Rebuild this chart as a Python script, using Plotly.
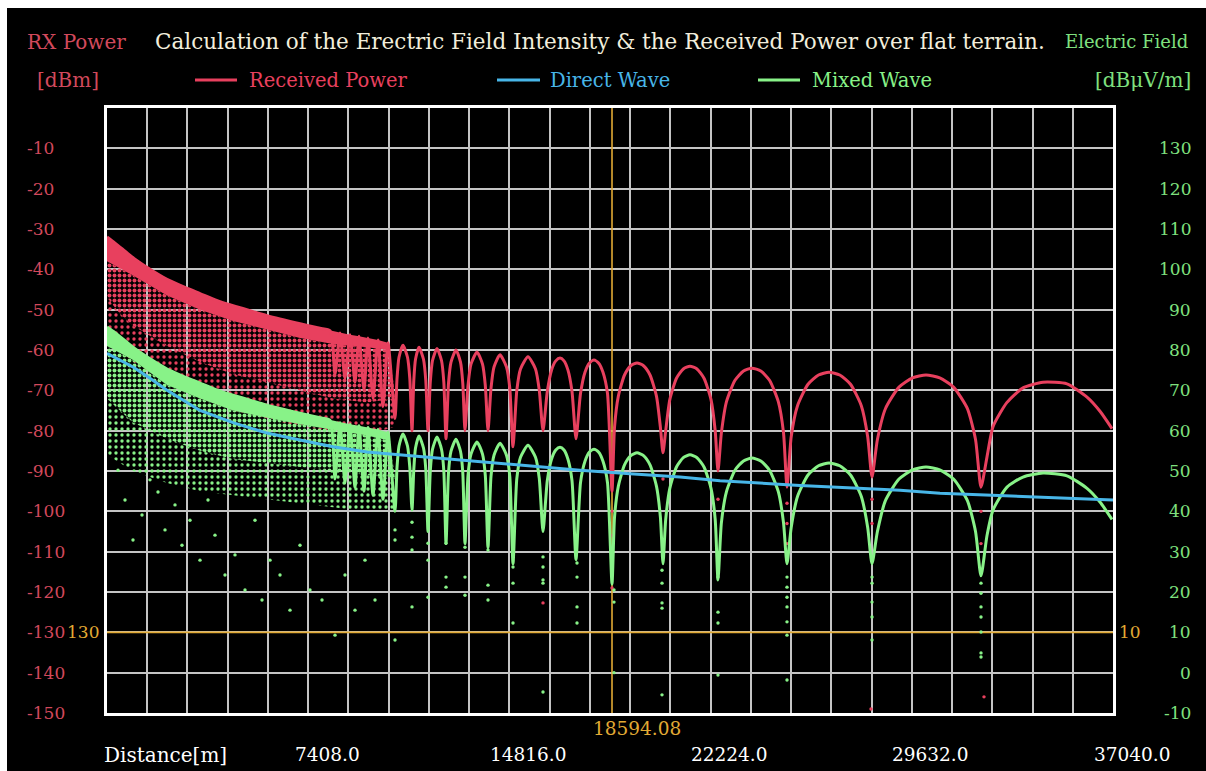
import plotly.graph_objects as go

# ------------------------------------------------------------------ data
X_MAX = 37040.0
x_tick_vals = [7408.0, 14816.0, 22224.0, 29632.0, 37040.0]
x_tick_text = ["7408.0", "14816.0", "22224.0", "29632.0", "37040.0"]
left_tick_vals = [-10, -20, -30, -40, -50, -60, -70, -80, -90, -100, -110, -120, -130, -140, -150]
right_tick_vals = [130, 120, 110, 100, 90, 80, 70, 60, 50, 40, 30, 20, 10, 0, -10]
cursor_x = 18594.08
cursor_left = -130
cursor_right = 10

# distances [m] of the traced points of the received power / mixed wave curves
lobe_d = [0, 295, 663, 1031, 1583, 2209, 2872, 3424, 4161, 4897, 5891, 7106, 7842, 8211,
          8395, 8579, 8763, 8947, 9131, 9278, 9462, 9610, 9794, 9978, 10162, 10346, 10604,
          10678, 10751, 10898, 11064, 11149, 11230,
          11296, 11359, 11488, 11653, 11738, 11819,
          11904, 11985, 12150, 12316, 12401, 12482,
          12574, 12666, 12850, 13016, 13100, 13181,
          13292, 13402, 13623, 13826, 13929, 14028,
          14138, 14249, 14470, 14709, 14831, 14949,
          15089, 15225, 15501, 15777, 15917, 16053,
          16211, 16366, 16524, 16679, 16826, 16973, 17121, 17268,
          17434, 17599, 17765, 17931, 18097, 18262, 18428, 18594,
          18686, 18826, 19054, 19286, 19514, 19754, 19993, 20232, 20376, 20471,
          20571, 20722, 20968, 21219, 21465, 21723, 21981, 22239, 22393, 22496,
          22622, 22809, 23122, 23435, 23748, 24072, 24393, 24717, 24908, 25037,
          25192, 25424, 25811, 26197, 26583, 26981, 27375, 27773, 28008, 28167,
          28366, 28664, 29161, 29658, 30155, 30663, 31168, 31676, 31978, 32180,
          32401, 32622, 33137, 33726, 34463, 35346, 36083, 36561, 37003]

# Received Power [dBm]
rx_power = [-32.0, -33.5, -35.5, -37.5, -40.0, -42.5, -44.5, -46.0, -48.0, -49.5, -51.5, -53.5, -54.6, -55.2,
            -66, -55.8, -67, -56.2, -68, -56.6, -70, -57.0, -72, -57.5, -74, -58.2, -77,
            -67.1, -61.8, -58.8, -61.8, -67.1, -80,
            -67.6, -62.3, -59.3, -62.3, -67.6, -80,
            -67.9, -62.6, -59.6, -62.6, -67.9, -82,
            -68.3, -63.0, -60.0, -63.0, -68.3, -80,
            -68.8, -63.5, -60.5, -63.5, -68.8, -80,
            -69.5, -64.2, -61.2, -64.2, -69.5, -84,
            -70.0, -64.7, -61.7, -64.7, -70.0, -80,
            -70.3, -65.0, -62.7, -62.0, -62.7, -65.0, -70.3, -82,
            -70.8, -65.5, -63.2, -62.5, -63.2, -65.5, -70.8, -95,
            -79.2, -71.5, -66.2, -63.9, -63.2, -63.9, -66.2, -71.5, -79.2, -85.5,
            -80.0, -72.3, -67.0, -64.7, -64.0, -64.7, -67.0, -72.3, -80.0, -90,
            -80.5, -72.8, -67.5, -65.2, -64.5, -65.2, -67.5, -72.8, -80.5, -94,
            -81.5, -73.8, -68.5, -66.2, -65.5, -66.2, -68.5, -73.8, -81.5, -91.5,
            -82.2, -74.5, -69.2, -66.9, -66.2, -66.9, -69.2, -74.5, -82.2, -94,
            -86.5, -79.0, -73.0, -69.4, -68.0, -68.4, -71.7, -75.2, -79.5]

# Mixed Wave [dBuV/m]
mixed_wave = [85.7, 84.3, 82.3, 80.3, 77.8, 75.3, 73.3, 71.8, 69.8, 68.3, 66.3, 64.3, 63.2, 62.6,
              48, 62.0, 47, 61.6, 46, 61.2, 45, 60.8, 44, 60.3, 43, 59.6, 40,
              50.9, 56.2, 59.2, 56.2, 50.9, 40.3,
              50.4, 55.7, 58.7, 55.7, 50.4, 35,
              50.1, 55.4, 58.4, 55.4, 50.1, 32,
              49.6, 54.9, 57.9, 54.9, 49.6, 32,
              48.9, 54.2, 57.2, 54.2, 48.9, 31,
              48.6, 53.9, 56.9, 53.9, 48.6, 27,
              48.1, 53.4, 56.4, 53.4, 48.1, 35,
              47.6, 52.9, 55.2, 55.9, 55.2, 52.9, 47.6, 28,
              47.1, 52.4, 54.7, 55.4, 54.7, 52.4, 47.1, 22,
              38.5, 46.2, 51.5, 53.8, 54.5, 53.8, 51.5, 46.2, 38.5, 27,
              38.0, 45.7, 51.0, 53.3, 54.0, 53.3, 51.0, 45.7, 38.0, 23,
              37.2, 44.9, 50.2, 52.5, 53.2, 52.5, 50.2, 44.9, 37.2, 27,
              36.0, 43.7, 49.0, 51.3, 52.0, 51.3, 49.0, 43.7, 36.0, 27,
              35.0, 42.7, 48.0, 50.3, 51.0, 50.3, 48.0, 42.7, 35.0, 24,
              34.0, 40.3, 46.0, 48.5, 49.5, 48.8, 45.7, 42.3, 38.0]

# Direct Wave [dBuV/m]
direct_d = [0, 479, 957, 1583, 2209, 2872, 3424, 4639, 5891, 7106, 8321, 9573, 10788, 12261,
            13733, 15574, 17415, 19256, 21097, 22570, 24043, 25516, 27467, 29197, 30670,
            32511, 34352, 35825, 37040]
direct_wave = [79.2, 77.5, 75.8, 73.0, 70.0, 67.3, 65.0, 62.0, 59.4, 57.7, 56.0, 54.7, 54.0, 53.2,
               52.2, 51.2, 50.2, 49.3, 48.5, 47.6, 47.0, 46.4, 45.8, 45.2, 44.5,
               44.0, 43.6, 43.2, 42.8]

# dense band near the source (upper envelope and lower edge of the solid band)
env_d = [0, 295, 663, 1031, 1583, 2209, 2872, 3424, 4161, 4897, 5891, 7106, 7842, 8211,
         8579, 8947, 9278, 9610, 9978, 10346]
rx_env = [-32.0, -33.5, -35.5, -37.5, -40.0, -42.5, -44.5, -46.0, -48.0, -49.5, -51.5, -53.5, -54.6, -55.2,
          -55.8, -56.2, -56.6, -57.0, -57.5, -58.2]
mixed_env = [85.7, 84.3, 82.3, 80.3, 77.8, 75.3, 73.3, 71.8, 69.8, 68.3, 66.3, 64.3, 63.2, 62.6,
             62.0, 61.6, 61.2, 60.8, 60.3, 59.6]
band_d = [0, 957, 2209, 3424, 4639, 5891, 7106, 8321, 9573, 10420]
rx_band_low = [-38, -41.5, -46.5, -50, -52.8, -55.0, -57.0, -58.5, -59.3, -60.0]
mixed_band_low = [81.0, 77.5, 71.3, 68, 65.0, 63.2, 61.6, 60.2, 58.8, 57.5]
# lower edge of the dense dot cloud, then of the sparse dot cloud
cloud_d = [0, 479, 957, 2209, 3424, 4639, 5891, 7106, 8321, 9573, 10604]
rx_cloud_mid = [-47, -51, -54, -59, -63, -66, -68, -70, -72, -73, -72]
rx_cloud_low = [-55, -60, -63, -68, -72, -75, -77, -79, -80, -81, -79]
mixed_cloud_mid = [68, 65, 62, 58, 55, 53, 52, 51, 50, 49, 48]
mixed_cloud_low = [54, 52, 50, 47, 45, 44, 43, 42, 41, 40, 40]

# isolated dots (mixed wave) below the cloud and at the nulls
mixed_dot_d = [405, 663, 957, 1289, 1583, 1878, 2136, 2504, 2761, 3056, 3424, 3719, 3976, 4345, 4713,
               5081, 5449, 5707, 6002, 6370, 6738, 7106, 7474, 7916, 8395, 8763, 9131, 9499, 9868,
               10604, 10604, 10604,
               11230, 11230, 11230, 11230,
               11819, 11819, 11819,
               12482, 12482, 12482,
               13181, 13181, 13181,
               14028, 14028, 14028,
               14949, 14949, 14949, 14949,
               16053, 16053, 16053, 16053, 16053,
               17305, 17305, 17305, 17305,
               18667, 18667, 18667,
               20435, 20435, 20435, 20435, 20435,
               22496, 22496, 22496, 22496, 22496,
               25037, 25037, 25037, 25037, 25037, 25037, 25037,
               28167, 28167, 28167, 28167, 28167,
               32180, 32180, 32180, 32180, 32180, 32180, 32180]
mixed_dot_v = [50.2, 42.8, 32.9, 39.1, 47.8, 44.8, 35.4, 41.6, 31.6, 37.8, 27.9, 42.8, 34.1, 24.2, 29.2,
               20.5, 37.8, 18.0, 27.9, 24.2, 15.5, 31.6, 20.5, 18.0, 9.3, 24.2, 15.5, 27.9, 18.0,
               35.4, 32.9, 8.1,
               37.3, 33.6, 30.4, 16.3,
               32.1, 27.9, 18.7,
               32.1, 23.7, 21.2,
               31.1, 23.7, 19.2,
               30.4, 21.7, 18.0,
               29.6, 26.2, 22.2, 12.3,
               28.7, 26.2, 23.0, 22.2, -4.8,
               27.2, 23.7, 16.3, 12.3,
               20.5, 17.5, 0.0,
               25.4, 22.2, 17.3, 16.0, -5.5,
               27.9, 23.7, 15.0, 12.3, -0.6,
               23.7, 21.2, 18.7, 16.3, 12.6, 9.3, -1.8,
               23.7, 22.2, 17.5, 13.8, 8.1,
               22.2, 19.7, 16.3, 13.8, 10.1, 4.9, 3.9]
# isolated dots (received power) at the nulls
rx_dot_d = [16053, 18594, 18594, 18594, 18594, 20471, 22496, 25037, 25037, 25037, 28167, 28167, 28130,
            32180, 32180, 32290]
rx_dot_v = [-122.7, -100, -106, -112, -119, -92, -97, -98, -103, -108, -97, -103, -149,
            -100, -108, -146]

# ------------------------------------------------------------------ style
RED = "#e8405e"
GREEN = "#88f288"
BLUE = "#48b6e8"
YELLOW = "#e2aa34"
CREAM = "#f2eedc"
GRID = "#c4c4c4"
RED_TXT = "#d2495c"
GREEN_TXT = "#7fe07f"
FONT = "DejaVu Serif, Liberation Serif, serif"

W, H = 1206, 771
L, R, T, B = 107, 93, 108, 58
PW, PH = W - L - R, H - T - B


def px(x):
    return (x - L) / PW


def py(y):
    return (H - B - y) / PH


def dotted(color, solidity, size):
    return dict(shape=".", fgcolor=color, bgcolor="rgba(0,0,0,0)", fgopacity=1,
                size=size, solidity=solidity)


fig = go.Figure()

# crosshair
fig.add_trace(go.Scatter(x=[cursor_x, cursor_x], y=[-150, 0], mode="lines",
                         line=dict(color=YELLOW, width=1.6), hoverinfo="skip"))
fig.add_trace(go.Scatter(x=[0, X_MAX], y=[cursor_left, cursor_left], mode="lines",
                         line=dict(color=YELLOW, width=1.6), hoverinfo="skip"))

# dotted clouds (sparse lower part, dense upper part)
clouds = [(cloud_d, rx_cloud_mid, rx_cloud_low, "y", RED, 0.25, 6),
          (cloud_d, mixed_cloud_mid, mixed_cloud_low, "y2", GREEN, 0.25, 6),
          (band_d, rx_band_low, rx_cloud_mid, "y", RED, 0.5, 5),
          (band_d, mixed_band_low, mixed_cloud_mid, "y2", GREEN, 0.5, 5)]
for xd, top, bot, yax, col, sol, sz in clouds:
    fig.add_trace(go.Scatter(x=xd + cloud_d[::-1], y=top + bot[::-1], yaxis=yax,
                             mode="lines", line=dict(width=0), fill="toself",
                             fillcolor="rgba(0,0,0,0)", fillpattern=dotted(col, sol, sz),
                             hoverinfo="skip"))
# solid bands
fig.add_trace(go.Scatter(x=env_d + band_d[::-1], y=rx_env + rx_band_low[::-1],
                         mode="lines", line=dict(width=0), fill="toself", fillcolor=RED,
                         hoverinfo="skip"))
fig.add_trace(go.Scatter(x=env_d + band_d[::-1], y=mixed_env + mixed_band_low[::-1],
                         yaxis="y2", mode="lines", line=dict(width=0), fill="toself",
                         fillcolor=GREEN, hoverinfo="skip"))

# isolated dots
fig.add_trace(go.Scatter(x=mixed_dot_d, y=mixed_dot_v, yaxis="y2", mode="markers",
                         marker=dict(color=GREEN, size=3.4), hoverinfo="skip"))
fig.add_trace(go.Scatter(x=rx_dot_d, y=rx_dot_v, mode="markers",
                         marker=dict(color=RED, size=3.4), hoverinfo="skip"))

# main curves
fig.add_trace(go.Scatter(x=lobe_d, y=rx_power, mode="lines", name="Received Power",
                         line=dict(color=RED, width=3, shape="spline", smoothing=0.6)))
fig.add_trace(go.Scatter(x=lobe_d, y=mixed_wave, yaxis="y2", mode="lines", name="Mixed Wave",
                         line=dict(color=GREEN, width=3, shape="spline", smoothing=0.6)))
fig.add_trace(go.Scatter(x=direct_d, y=direct_wave, yaxis="y2", mode="lines", name="Direct Wave",
                         line=dict(color=BLUE, width=3)))


def txt(x, y, text, color, size, xanchor="left", xref="paper", yref="paper", xshift=0):
    return dict(x=x, xref=xref, y=y, yref=yref, text=text, showarrow=False, xshift=xshift,
                xanchor=xanchor, yanchor="middle", font=dict(family=FONT, size=size, color=color))


ann = []
for v in left_tick_vals:
    ann.append(txt(px(25), v, str(v), RED_TXT, 17, yref="y"))
for v in right_tick_vals:
    ann.append(txt(px(1193), v, str(v), GREEN_TXT, 17, xanchor="right", yref="y2"))
for v, t in zip(x_tick_vals, x_tick_text):
    ann.append(txt(v, py(755), t, "white", 18.5, xanchor="center", xref="x", xshift=19))
ann.append(txt(px(102), py(755), "Distance[m]", "white", 20))
ann.append(txt(cursor_x, py(728), f"{cursor_x:.2f}", YELLOW, 18.5, xanchor="center", xref="x", xshift=25))
ann.append(txt(px(101), cursor_left, str(-cursor_left), YELLOW, 17, xanchor="right", yref="y"))
ann.append(txt(px(1117), cursor_right, str(cursor_right), YELLOW, 17, yref="y2"))
ann.append(txt(px(25), py(42), "RX Power", RED_TXT, 20))
ann.append(txt(px(35), py(80), "[dBm]", RED_TXT, 20))
ann.append(txt(px(153), py(42),
               "Calculation of the Erectric Field Intensity &amp; the Received Power over flat terrain.",
               CREAM, 21.5))
ann.append(txt(px(1190), py(42), "Electric Field", GREEN_TXT, 18, xanchor="right"))
ann.append(txt(px(1193), py(80), "[dBμV/m]", GREEN_TXT, 20, xanchor="right"))

# manual legend
legend_items = [("Received Power", RED, 195, 237, 247),
                ("Direct Wave", BLUE, 497, 540, 548),
                ("Mixed Wave", GREEN, 758, 800, 810)]
shapes = []
for name, col, x0, x1, xt in legend_items:
    shapes.append(dict(type="line", xref="paper", yref="paper", x0=px(x0), x1=px(x1),
                       y0=py(80), y1=py(80), line=dict(color=col, width=3)))
    ann.append(txt(px(xt), py(80), name, col, 19.5))

# white page edge (top / left)
shapes.append(dict(type="rect", xref="paper", yref="paper", x0=px(-5), x1=px(7), y0=py(780), y1=py(-5),
                   fillcolor="white", line=dict(width=0), layer="above"))
shapes.append(dict(type="rect", xref="paper", yref="paper", x0=px(-5), x1=px(1215), y0=py(8), y1=py(-5),
                   fillcolor="white", line=dict(width=0), layer="above"))

fig.update_layout(
    width=W, height=H,
    margin=dict(l=L, r=R, t=T, b=B, pad=0),
    paper_bgcolor="black", plot_bgcolor="black",
    showlegend=False,
    annotations=ann, shapes=shapes,
    xaxis=dict(range=[0, X_MAX], tick0=0, dtick=X_MAX / 25, showgrid=True, gridcolor=GRID, gridwidth=2,
               showline=True, linecolor="white", linewidth=3, mirror=True, showticklabels=False,
               ticks="", zeroline=False, fixedrange=True),
    yaxis=dict(range=[-150, 0], tick0=-150, dtick=10, showgrid=True, gridcolor=GRID, gridwidth=2,
               showline=True, linecolor="white", linewidth=3, mirror=True, showticklabels=False,
               ticks="", zeroline=False, fixedrange=True),
    yaxis2=dict(range=[-10, 140], overlaying="y", side="right", showgrid=False, showticklabels=False,
                showline=False, zeroline=False, ticks="", fixedrange=True),
)

fig.write_html("out.html")
